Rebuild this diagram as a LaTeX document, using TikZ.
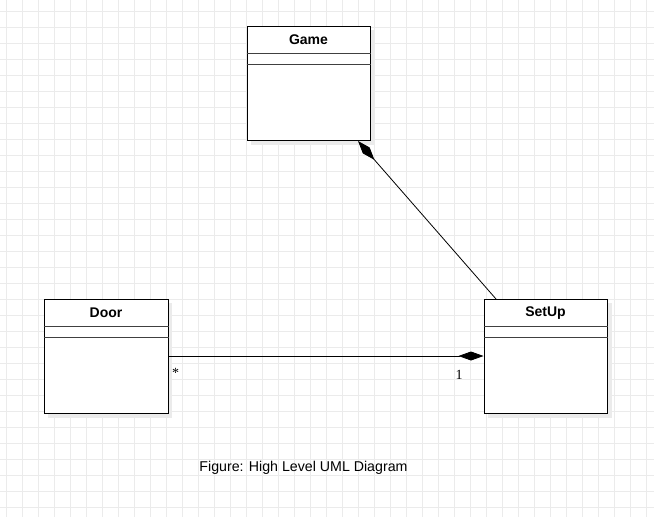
\documentclass[tikz,border=0pt]{standalone}
\usepackage{fontspec}
\setmainfont{Liberation Serif}
\setsansfont{Liberation Sans}
\usetikzlibrary{arrows.meta}
\tikzset{
  umlclass/.style={draw=black, line width=1pt, fill=white, rectangle, minimum width=123pt, minimum height=114pt, inner sep=0pt},
  shadowbox/.style={fill=black!8, draw=none},
  classtitle/.style={font=\sffamily\bfseries\fontsize{14}{16}\selectfont, inner sep=0pt},
  divider/.style={line width=0.9pt, draw=black!75},
  assoc/.style={line width=0.8pt, draw=black},
  compo/.style={assoc, -{Diamond[length=25pt, width=9pt, fill=black]}},
  mult/.style={font=\fontsize{14}{16}\selectfont, inner sep=0pt},
  gridline/.style={draw=black!8, line width=0.8pt}
}
\begin{document}
\begin{tikzpicture}[x=1pt, y=-1pt]
\useasboundingbox (0,0) rectangle (654,517);
\fill[white] (0,0) rectangle (654,517);
\foreach \gx in {6,22,...,654} \draw[gridline] (\gx,0) -- (\gx,517);
\foreach \gy in {11,27,...,517} \draw[gridline] (0,\gy) -- (654,\gy);
% shadows
\fill[shadowbox] (251,30) rectangle (375,145);
\fill[shadowbox] (48,303) rectangle (172,418);
\fill[shadowbox] (488,303) rectangle (612,418);
% classes
\node[umlclass] (game) at (308.5,83) {};
\node[umlclass, minimum width=124pt] (door) at (106,356) {};
\node[umlclass] (setup) at (545.5,356) {};
\node[classtitle] (gameT) at (308.5,40) {Game};
\node[classtitle] (doorT) at (106,313) {Door};
\node[classtitle] (setupT) at (545.5,313) {SetUp};
\draw[divider] ([yshift=-28pt]game.north west) -- ([yshift=-28pt]game.north east);
\draw[divider] ([yshift=-39pt]game.north west) -- ([yshift=-39pt]game.north east);
\draw[divider] ([yshift=-28pt]door.north west) -- ([yshift=-28pt]door.north east);
\draw[divider] ([yshift=-39pt]door.north west) -- ([yshift=-39pt]door.north east);
\draw[divider] ([yshift=-28pt]setup.north west) -- ([yshift=-28pt]setup.north east);
\draw[divider] ([yshift=-39pt]setup.north west) -- ([yshift=-39pt]setup.north east);
% connectors
\coordinate (gameTip) at (358,141);
\coordinate (setupTop) at (496,299);
\draw[compo] (door.east) -- (setup.west);
\draw[compo] (setupTop) -- (gameTip);
\node[mult] (star) at (175.5,373) {*};
\node[mult] (one) at (459,375) {1};
\node[font=\sffamily\fontsize{14.2}{17}\selectfont, inner sep=0pt] (caption) at (303.5,468) {Figure: High Level UML Diagram};
\end{tikzpicture}
\end{document}
